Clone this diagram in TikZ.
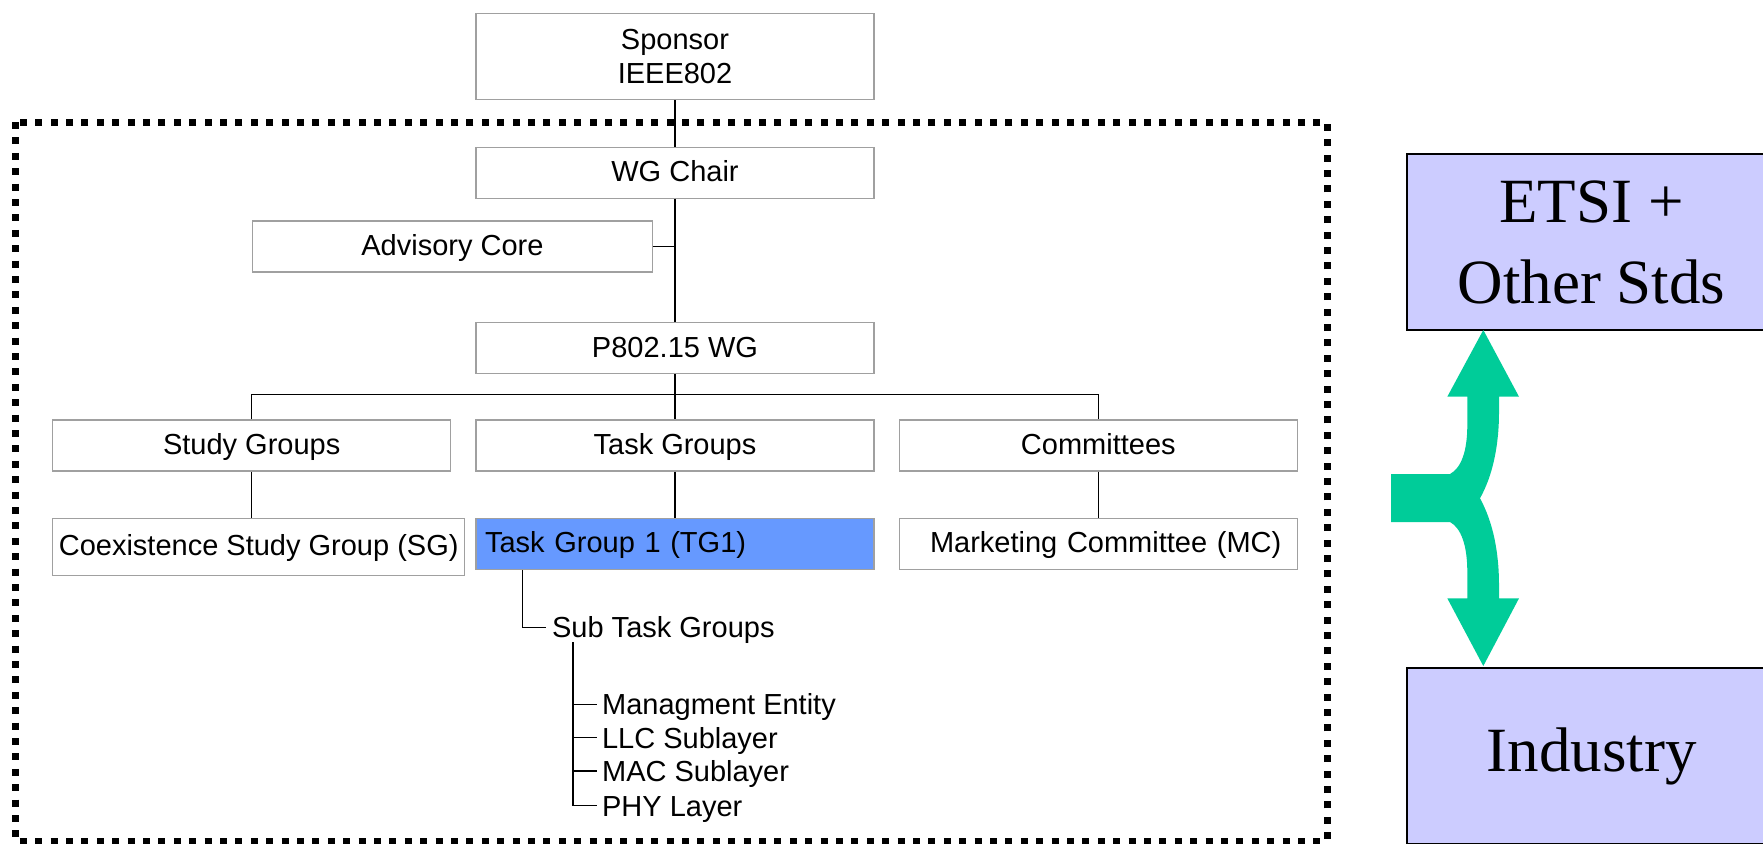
\documentclass[tikz,border=0pt]{standalone}
\usepackage{fontspec}
\setmainfont{Liberation Sans}
\newfontfamily\serifstd{Liberation Serif}
\usetikzlibrary{positioning}
\definecolor{boxgray}{RGB}{160,160,160}
\definecolor{tgblue}{RGB}{102,153,255}
\definecolor{stdlilac}{RGB}{204,204,255}
\definecolor{linkgreen}{RGB}{0,204,153}
\tikzstyle{orgbox} = [rectangle, minimum width=199pt, minimum height=25.5pt,
    text centered, draw=boxgray, line width=0.65pt, fill=white,
    text height=11.5pt, text depth=2.6pt,
    font=\fontsize{14.5}{17.2}\selectfont]
\tikzstyle{subitem} = [anchor=west, inner ysep=0pt, inner xsep=2.5pt,
    text height=10.3pt, text depth=0pt, font=\fontsize{14.5}{17.2}\selectfont]
\tikzstyle{stdbox} = [rectangle, minimum width=184.5pt, minimum height=88pt,
    draw=black, line width=1pt, fill=stdlilac, align=center,
    font=\serifstd\fontsize{31.5}{40.5}\selectfont]
\tikzstyle{link} = [draw=black, line width=0.65pt]
\tikzstyle{wgframe} = [draw=black, line width=3.5pt, dash pattern=on 3.5pt off 4.2pt]

\begin{document}
\begin{tikzpicture}[x=0.5pt, y=-0.5pt]
    \useasboundingbox (0,0) rectangle (1763,843);
    % working group frame
    \draw [wgframe] (15,122) rectangle (1327,841);

    % main column
    \node (Sponsor) [orgbox, minimum height=43pt, align=center, text height=, text depth=]
        at (675,56.5) {Sponsor\\IEEE802};
    \node (WGChair) [orgbox, below=23.25pt of Sponsor] {WG Chair};
    \node (Advisory) [orgbox, minimum width=200pt] at (452.4,246.5) {Advisory Core};
    \node (P802) [orgbox, below=61.5pt of WGChair] {P802.15 WG};

    % groups
    \node (TaskGroups) [orgbox, below=22.5pt of P802] {Task Groups};
    \node (StudyGroups) [orgbox, left=12pt of TaskGroups] {Study Groups};
    \node (Committees) [orgbox, right=12pt of TaskGroups] {Committees};

    % subgroups
    \node (TG1) [orgbox, fill=tgblue, below=23pt of TaskGroups, text width=190pt,
        inner xsep=4.5pt, align=left] {Task Group 1 (TG1)};
    \node (MC) [orgbox, below=23pt of Committees, text width=183pt,
        inner xsep=8pt, align=right] {Marketing Committee (MC)};
    \node (Coex) [orgbox, minimum width=206pt, minimum height=28.5pt, anchor=north west,
        inner xsep=2pt] at ([yshift=-23pt]StudyGroups.south west) {Coexistence Study Group (SG)};

    % sub task groups
    \node (SubTask) [subitem, inner xsep=3pt] at (545.7,627.3) {Sub Task Groups};
    \node (Mgmt) [subitem] at (596.7,704.3) {Managment Entity};
    \node (LLC) [subitem] at (596.7,737.7) {LLC Sublayer};
    \node (MAC) [subitem] at (596.7,771) {MAC Sublayer};
    \node (PHY) [subitem] at (596.7,805.7) {PHY Layer};

    % standards bodies
    \node (ETSI) [stdbox] at (1591.5,242) {ETSI +\\Other Stds};
    \node (Industry) [stdbox, below=168pt of ETSI] {Industry};

    % connectors
    \draw [link] (Sponsor) -- (WGChair);
    \draw [link] (WGChair) -- (P802);
    \draw [link] (Advisory.east) -- (Advisory.east -| WGChair.south);
    \draw [link] (P802) -- (TaskGroups);
    \draw [link] (StudyGroups.north) -- ++(0,-25) -| (Committees.north);
    \draw [link] (StudyGroups.south) -- (StudyGroups.south |- Coex.north);
    \draw [link] (TaskGroups) -- (TG1);
    \draw [link] (Committees) -- (MC);
    \draw [link] (TG1.south west) ++(47.3,0) |- (SubTask.west);
    \coordinate (SubTrunk) at ([xshift=13.65pt, yshift=-2pt]SubTask.south west);
    \draw [link] (SubTrunk) |- (PHY.west);
    \foreach \sub in {Mgmt, LLC, MAC}
        \draw [link] (SubTrunk |- \sub.west) -- (\sub.west);

    % two-way link to the standards bodies
    \fill [linkgreen] (1391,474) -- (1450,474)
        .. controls (1461,468) and (1467.3,452) .. (1467.3,425)
        -- (1467.3,396.7) -- (1447.3,396.7) -- (1483.3,330) -- (1519,396.7)
        -- (1499,396.7) -- (1499,412)
        .. controls (1499,445) and (1493,475) .. (1480,498.3)
        .. controls (1493,522) and (1499,552) .. (1499,585)
        -- (1499,598.3) -- (1519,598.3) -- (1483.3,666) -- (1447.3,598.3)
        -- (1467.3,598.3) -- (1467.3,572)
        .. controls (1467.3,545) and (1461,528) .. (1450,522)
        -- (1391,522) -- cycle;
\end{tikzpicture}
\end{document}
